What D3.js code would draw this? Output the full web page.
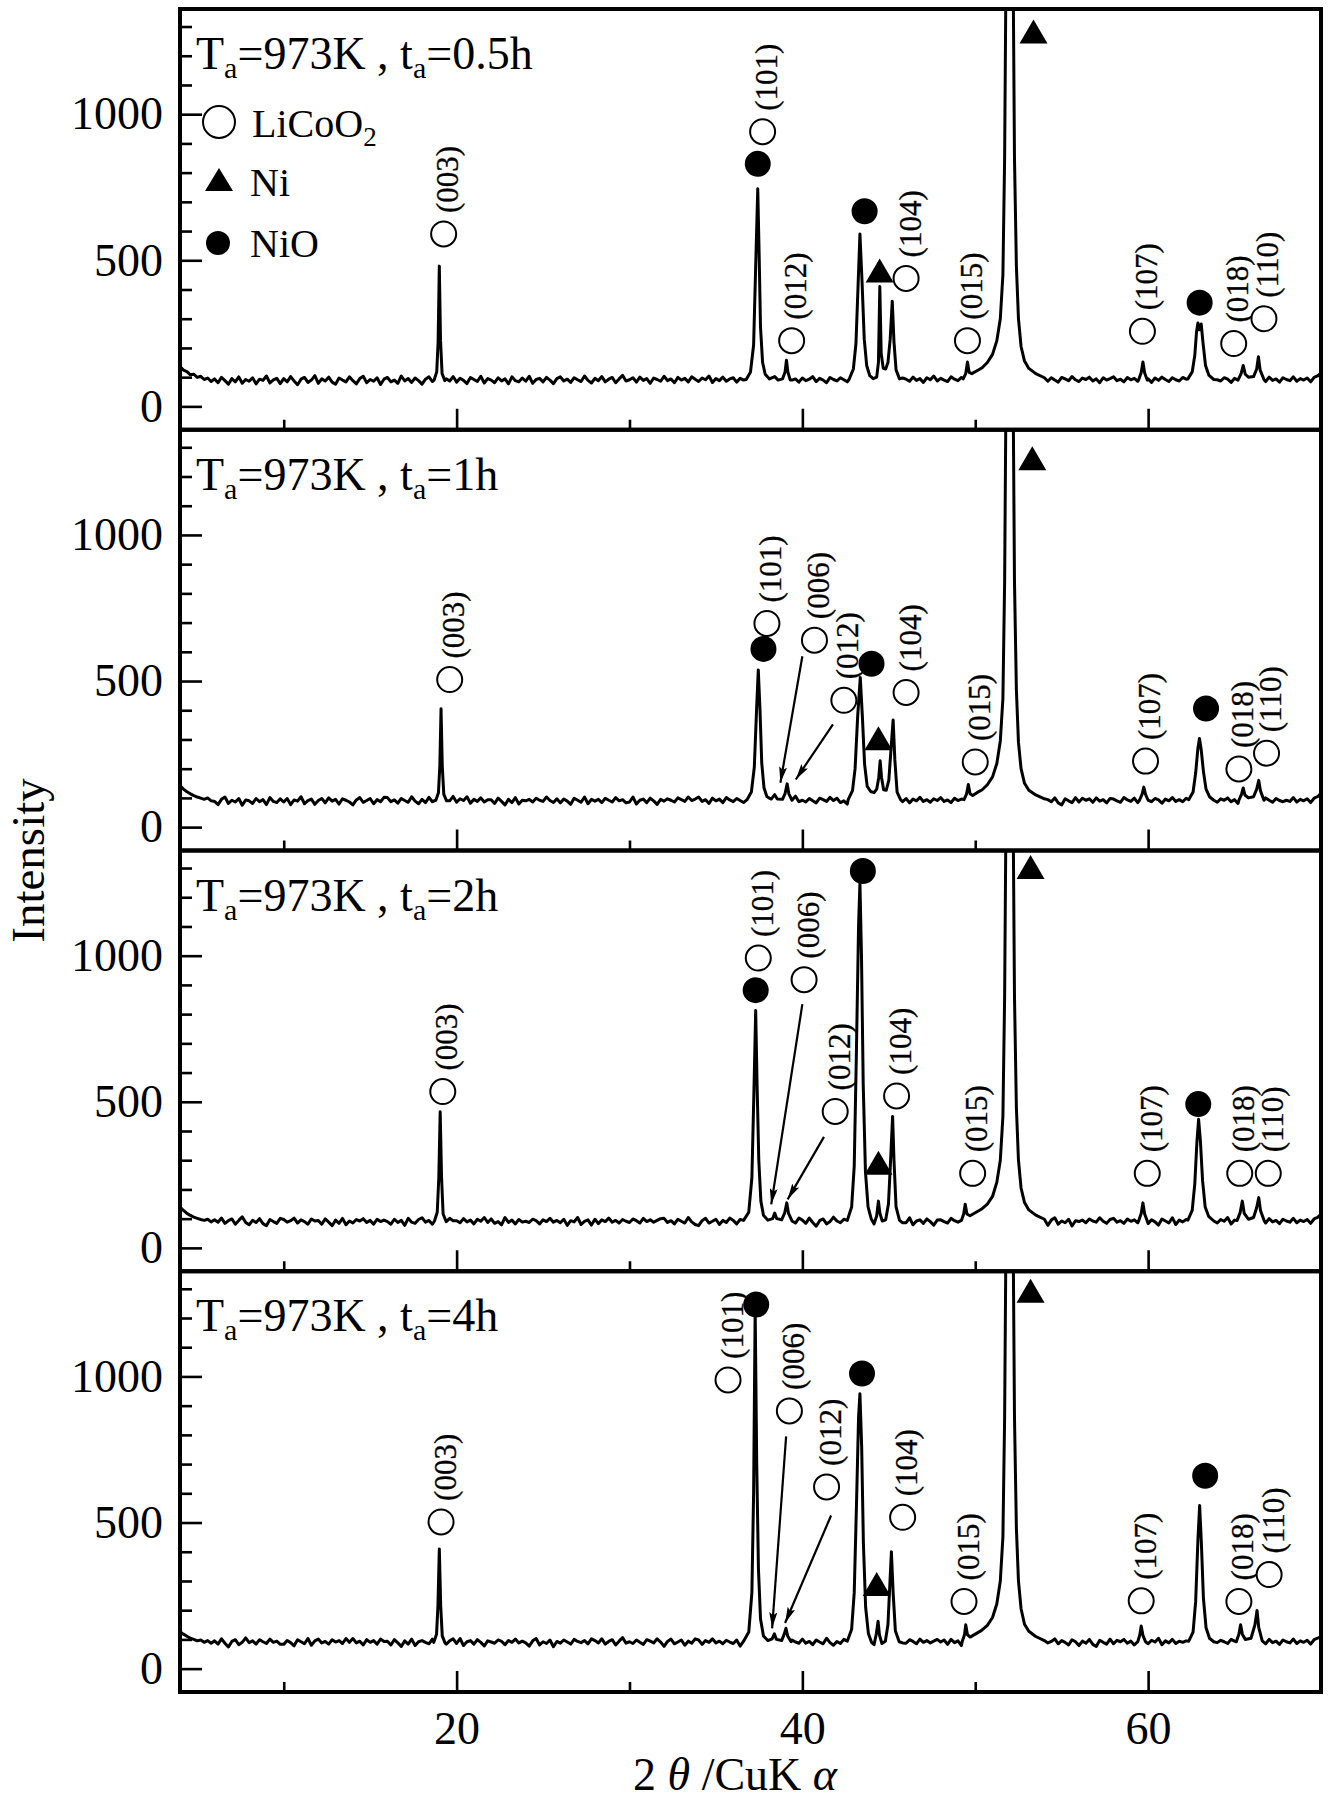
<!DOCTYPE html>
<html>
<head>
<meta charset="utf-8">
<script src="https://cdn.jsdelivr.net/npm/d3@7/dist/d3.min.js"></script>
<style>
  html, body { margin: 0; padding: 0; background: #fff; }
  svg { display: block; }
  text { font-family: "Liberation Serif", "Times New Roman", serif; fill: #000; }
</style>
</head>
<body>
<svg id="chart" width="1334" height="1804"></svg>
<script>
// ---- Diffraction patterns: 2θ range and sampling grid of the background ----
const thetaDomain = [4, 70];
const intensityDomain = [-80, 1360];
const gridStart = 4.0, gridStep = 0.2;

// Panel headings: annealing time at Ta = 973 K
const annealTimes = ["0.5h", "1h", "2h", "4h"];

// Background counts on the 0.2° grid (4.0 … 70.0), one array per pattern
const base05h = [
  136,124,119,108,110,99,103,92,97,85,
  94,81,99,88,76,95,84,101,79,92,
  86,98,77,93,89,104,80,91,96,78,
  95,84,102,87,74,93,99,82,90,105,
  79,94,87,100,83,76,97,90,84,101,
  88,77,95,103,81,92,86,98,75,93,
  99,84,90,79,104,87,95,82,97,88,
  76,93,101,85,91,98,80,94,87,102,
  83,96,89,78,99,92,85,103,80,95,
  90,81,98,87,94,77,101,88,84,97,
  86,103,79,92,96,84,99,90,78,95,
  101,87,93,82,98,91,85,104,89,80,
  96,88,102,84,93,99,81,94,106,87,
  91,98,83,100,89,95,79,97,92,86,
  103,88,94,81,99,90,96,84,101,93,
  85,97,91,104,82,95,88,100,86,94,
  98,83,96,90,102,88,94,85,97,91,
  89,95,84,99,92,86,101,90,94,83,
  97,88,93,102,85,96,90,81,99,92,
  87,98,91,84,100,93,89,96,85,102,
  90,95,86,99,92,88,103,91,84,97,
  93,86,100,89,95,82,98,91,104,87,
  96,90,85,101,93,88,99,84,95,102,
  89,97,92,86,100,94,88,103,91,96,
  87,99,93,85,101,90,96,88,94,100,
  92,86,98,90,83,99,94,88,102,91,
  85,97,92,100,87,94,81,98,90,95,
  101,88,93,84,99,91,96,86,103,90,
  94,82,97,89,100,92,85,98,91,87,
  99,93,86,102,90,95,88,97,84,100,
  91,87,98,93,82,96,90,101,88,94,
  86,99,92,97,85,100,89,94,83,98,
  92,88,101,86,95,90,97,84,99,104,
  114
];
const base1h = [
  142,130,121,114,108,103,99,95,100,90,
  88,77,95,103,81,92,86,98,75,93,
  90,81,98,87,94,77,101,88,84,97,
  86,98,77,93,89,104,80,91,96,78,
  91,98,83,100,89,95,79,97,92,86,
  76,93,101,85,91,98,80,94,87,102,
  101,87,93,82,98,91,85,104,89,80,
  95,84,102,87,74,93,99,82,90,105,
  85,97,91,104,82,95,88,100,86,94,
  94,81,99,88,76,95,84,101,79,92,
  90,95,86,99,92,88,103,91,84,97,
  83,96,89,78,99,92,85,103,80,95,
  89,95,84,99,92,86,101,90,94,83,
  86,103,79,92,96,84,99,90,78,95,
  89,97,92,86,100,94,88,103,91,96,
  103,88,94,81,99,90,96,84,101,93,
  87,98,91,84,100,93,89,96,85,102,
  96,88,102,84,93,99,81,94,106,87,
  92,86,98,90,83,99,94,88,102,91,
  99,84,90,79,104,87,95,82,97,88,
  93,86,100,89,95,82,98,91,104,87,
  98,83,96,90,102,88,94,85,97,91,
  101,88,93,84,99,91,96,86,103,90,
  97,88,93,102,85,96,90,81,99,92,
  99,93,86,102,90,95,88,97,84,100,
  79,94,87,100,83,76,97,90,84,101,
  86,99,92,97,85,100,89,94,83,98,
  96,90,85,101,93,88,99,84,95,102,
  91,87,98,93,82,96,90,101,88,94,
  87,99,93,85,101,90,96,88,94,100,
  85,97,92,100,87,94,81,98,90,95,
  94,82,97,89,100,92,85,98,91,87,
  92,88,101,86,95,90,97,84,99,104,
  116
];
const base2h = [
  140,128,118,111,105,101,97,94,98,89,
  96,88,102,84,93,99,81,94,106,87,
  79,94,87,100,83,76,97,90,84,101,
  97,88,93,102,85,96,90,81,99,92,
  94,81,99,88,76,95,84,101,79,92,
  85,97,92,100,87,94,81,98,90,95,
  90,81,98,87,94,77,101,88,84,97,
  103,88,94,81,99,90,96,84,101,93,
  93,86,100,89,95,82,98,91,104,87,
  99,84,90,79,104,87,95,82,97,88,
  91,87,98,93,82,96,90,101,88,94,
  86,98,77,93,89,104,80,91,96,78,
  98,83,96,90,102,88,94,85,97,91,
  87,99,93,85,101,90,96,88,94,100,
  101,87,93,82,98,91,85,104,89,80,
  76,93,101,85,91,98,80,94,87,102,
  94,82,97,89,100,92,85,98,91,87,
  87,98,91,84,100,93,89,96,85,102,
  95,84,102,87,74,93,99,82,90,105,
  92,86,98,90,83,99,94,88,102,91,
  91,98,83,100,89,95,79,97,92,86,
  86,103,79,92,96,84,99,90,78,95,
  96,90,85,101,93,88,99,84,95,102,
  89,95,84,99,92,86,101,90,94,83,
  99,93,86,102,90,95,88,97,84,100,
  88,77,95,103,81,92,86,98,75,93,
  90,95,86,99,92,88,103,91,84,97,
  101,88,93,84,99,91,96,86,103,90,
  83,96,89,78,99,92,85,103,80,95,
  89,97,92,86,100,94,88,103,91,96,
  85,97,91,104,82,95,88,100,86,94,
  86,99,92,97,85,100,89,94,83,98,
  92,88,101,86,95,90,97,84,99,104,
  116
];
const base4h = [
  126,118,111,104,100,95,98,90,96,87,
  95,84,102,87,74,93,99,82,90,105,
  89,95,84,99,92,86,101,90,94,83,
  83,96,89,78,99,92,85,103,80,95,
  101,88,93,84,99,91,96,86,103,90,
  103,88,94,81,99,90,96,84,101,93,
  94,81,99,88,76,95,84,101,79,92,
  96,90,85,101,93,88,99,84,95,102,
  86,103,79,92,96,84,99,90,78,95,
  91,87,98,93,82,96,90,101,88,94,
  88,77,95,103,81,92,86,98,75,93,
  87,98,91,84,100,93,89,96,85,102,
  96,88,102,84,93,99,81,94,106,87,
  92,86,98,90,83,99,94,88,102,91,
  76,93,101,85,91,98,80,94,87,102,
  98,83,96,90,102,88,94,85,97,91,
  86,98,77,93,89,104,80,91,96,78,
  94,82,97,89,100,92,85,98,91,87,
  101,87,93,82,98,91,85,104,89,80,
  93,86,100,89,95,82,98,91,104,87,
  99,84,90,79,104,87,95,82,97,88,
  87,99,93,85,101,90,96,88,94,100,
  91,98,83,100,89,95,79,97,92,86,
  90,81,98,87,94,77,101,88,84,97,
  99,93,86,102,90,95,88,97,84,100,
  97,88,93,102,85,96,90,81,99,92,
  79,94,87,100,83,76,97,90,84,101,
  85,97,92,100,87,94,81,98,90,95,
  85,97,91,104,82,95,88,100,86,94,
  90,95,86,99,92,88,103,91,84,97,
  89,97,92,86,100,94,88,103,91,96,
  86,99,92,97,85,100,89,94,83,98,
  92,88,101,86,95,90,97,84,99,104,
  110
];

// Reflection profiles [2θ, counts]; each group replaces the background over its span
const peaks05h = [
  [[18.7,90],[18.85,118],[18.93,220],[19.0,480],[19.07,225],[19.16,112],[19.32,88]],
  [[36.75,92],[37.0,118],[37.18,210],[37.3,480],[37.42,745],[37.5,520],[37.58,270],[37.7,150],[37.85,110],[38.1,94],[38.4,102],[38.6,90],[38.85,94],[39.0,118],[39.08,158],[39.16,118],[39.3,90]],
  [[42.7,92],[42.95,128],[43.1,215],[43.22,410],[43.33,590],[43.45,430],[43.58,230],[43.72,140],[43.9,105],[44.1,95],[44.3,100],[44.4,150],[44.48,410],[44.56,180],[44.68,130],[44.82,128],[44.95,150],[45.08,230],[45.2,360],[45.3,220],[45.42,125],[45.62,94]],
  [[49.3,94],[49.45,112],[49.55,152],[49.65,116],[49.8,112],[50.1,122],[50.4,132],[50.7,150],[51.0,178],[51.25,225],[51.45,300],[51.6,450],[51.7,850],[51.78,1500],[51.83,8000],[52.13,8000],[52.19,1500],[52.27,850],[52.38,480],[52.5,300],[52.65,205],[52.85,155],[53.1,130],[53.5,112],[54.0,98]],
  [[59.45,90],[59.6,116],[59.7,152],[59.8,114],[59.95,90]],
  [[62.3,94],[62.55,118],[62.7,175],[62.8,255],[62.88,285],[62.97,262],[63.07,282],[63.18,215],[63.32,140],[63.52,106],[63.8,92]],
  [[65.2,90],[65.38,112],[65.5,140],[65.62,110],[65.8,100],[66.1,102],[66.28,128],[66.38,170],[66.48,124],[66.7,92]]
];
const peaks1h = [
  [[18.8,92],[18.95,118],[19.03,210],[19.1,405],[19.17,210],[19.26,112],[19.42,90]],
  [[36.8,94],[37.05,120],[37.22,205],[37.35,400],[37.45,538],[37.55,400],[37.65,220],[37.78,135],[37.95,104],[38.2,96],[38.4,111],[38.55,96],[38.85,95],[39.0,115],[39.12,148],[39.22,114],[39.4,92]],
  [[42.65,94],[42.9,125],[43.05,200],[43.2,380],[43.35,512],[43.47,380],[43.6,215],[43.75,140],[43.95,122],[44.15,118],[44.3,130],[44.42,170],[44.5,227],[44.58,170],[44.7,128],[44.85,126],[45.0,160],[45.12,260],[45.25,367],[45.35,230],[45.48,120],[45.68,94]],
  [[49.35,94],[49.5,114],[49.6,146],[49.7,114],[49.85,108],[50.1,118],[50.4,128],[50.7,145],[51.0,172],[51.25,218],[51.45,295],[51.6,440],[51.7,840],[51.78,1500],[51.83,8000],[52.13,8000],[52.19,1500],[52.27,840],[52.38,470],[52.5,290],[52.65,200],[52.85,150],[53.1,126],[53.5,110],[54.0,97]],
  [[59.5,92],[59.65,112],[59.75,137],[59.85,112],[60.0,92]],
  [[62.35,94],[62.6,120],[62.75,185],[62.88,270],[62.97,303],[63.07,265],[63.2,190],[63.35,130],[63.55,104],[63.8,92]],
  [[65.25,92],[65.4,112],[65.5,134],[65.6,110],[65.8,100],[66.1,104],[66.28,130],[66.4,160],[66.5,124],[66.7,92]]
];
const peaks2h = [
  [[18.72,92],[18.88,122],[18.97,240],[19.05,466],[19.13,240],[19.22,116],[19.4,90]],
  [[36.6,94],[36.9,122],[37.08,240],[37.2,540],[37.3,812],[37.38,560],[37.48,300],[37.6,160],[37.75,112],[38.0,95],[38.28,100],[38.4,119],[38.52,100],[38.8,96],[38.98,120],[39.1,154],[39.2,118],[39.4,92]],
  [[42.6,94],[42.85,140],[43.0,280],[43.12,650],[43.25,1100],[43.33,1250],[43.42,1000],[43.52,560],[43.65,260],[43.8,140],[43.98,100],[44.15,82],[44.3,110],[44.4,160],[44.48,120],[44.62,92],[44.82,96],[44.98,150],[45.12,320],[45.22,450],[45.3,300],[45.42,140],[45.62,94]],
  [[49.2,94],[49.33,116],[49.42,149],[49.52,116],[49.7,110],[50.0,120],[50.35,132],[50.7,150],[51.0,176],[51.25,225],[51.45,300],[51.6,450],[51.7,860],[51.78,1500],[51.83,8000],[52.13,8000],[52.19,1500],[52.27,860],[52.38,480],[52.5,300],[52.65,205],[52.85,155],[53.1,130],[53.5,112],[54.0,98]],
  [[59.45,92],[59.6,118],[59.7,154],[59.8,116],[59.95,92]],
  [[62.3,95],[62.55,128],[62.7,220],[62.82,360],[62.92,440],[63.02,370],[63.15,230],[63.3,140],[63.5,108],[63.8,92]],
  [[65.15,94],[65.32,120],[65.45,160],[65.56,118],[65.8,98],[66.1,104],[66.28,138],[66.4,172],[66.5,128],[66.72,92]]
];
const peaks4h = [
  [[18.68,90],[18.84,118],[18.92,215],[19.0,409],[19.08,215],[19.17,112],[19.33,88]],
  [[36.6,94],[36.9,125],[37.08,260],[37.18,600],[37.27,1230],[37.36,700],[37.46,340],[37.58,170],[37.75,112],[38.0,96],[38.25,102],[38.38,119],[38.5,100],[38.8,96],[38.95,118],[39.05,138],[39.15,112],[39.35,92]],
  [[42.6,94],[42.85,135],[43.0,260],[43.13,560],[43.25,860],[43.33,941],[43.43,760],[43.53,430],[43.66,210],[43.82,120],[44.0,90],[44.15,82],[44.28,120],[44.38,162],[44.46,115],[44.6,86],[44.8,94],[44.95,150],[45.07,300],[45.15,400],[45.25,260],[45.38,130],[45.6,92]],
  [[49.25,94],[49.38,116],[49.45,150],[49.55,116],[49.7,108],[50.0,118],[50.35,130],[50.7,148],[51.0,175],[51.25,222],[51.45,300],[51.6,450],[51.7,860],[51.78,1500],[51.83,8000],[52.13,8000],[52.19,1500],[52.27,860],[52.38,480],[52.5,300],[52.65,205],[52.85,152],[53.1,128],[53.5,110],[54.0,96]],
  [[59.4,92],[59.52,116],[59.6,146],[59.7,114],[59.85,92]],
  [[62.35,94],[62.6,125],[62.75,230],[62.88,440],[62.98,558],[63.08,430],[63.2,240],[63.35,140],[63.55,104],[63.8,92]],
  [[65.1,92],[65.25,118],[65.35,150],[65.45,118],[65.62,100],[65.95,104],[66.18,150],[66.3,199],[66.4,140],[66.6,95]]
];

// Phase markers: o = LiCoO2 (with hkl), n = NiO, t = Ni   [2θ, counts]
const marks05h = [
  {k:"o",x:19.25,y:590,hkl:"(003)"}, {k:"n",x:37.42,y:830}, {k:"o",x:37.7,y:940,hkl:"(101)"},
  {k:"o",x:39.38,y:225,hkl:"(012)"}, {k:"n",x:43.6,y:668}, {k:"t",x:44.47,y:462},
  {k:"o",x:46.0,y:438,hkl:"(104)"}, {k:"o",x:49.55,y:225,hkl:"(015)"}, {k:"t",x:53.37,y:1280},
  {k:"o",x:59.67,y:257,hkl:"(107)"}, {k:"n",x:62.98,y:355}, {k:"o",x:64.95,y:215,hkl:"(018)"},
  {k:"o",x:66.7,y:300,hkl:"(110)"}
];
const marks1h = [
  {k:"o",x:19.6,y:505,hkl:"(003)"}, {k:"n",x:37.75,y:610}, {k:"o",x:37.95,y:697,hkl:"(101)"},
  {k:"o",x:40.7,y:640,hkl:"(006)"}, {k:"o",x:42.4,y:434,hkl:"(012)"}, {k:"n",x:44.0,y:559},
  {k:"t",x:44.4,y:301}, {k:"o",x:46.0,y:461,hkl:"(104)"}, {k:"o",x:50.0,y:223,hkl:"(015)"},
  {k:"t",x:53.3,y:1259}, {k:"o",x:59.85,y:226,hkl:"(107)"}, {k:"n",x:63.35,y:406},
  {k:"o",x:65.25,y:199,hkl:"(018)"}, {k:"o",x:66.85,y:253,hkl:"(110)"}
];
const marks2h = [
  {k:"o",x:19.2,y:535,hkl:"(003)"}, {k:"n",x:37.3,y:882}, {k:"o",x:37.45,y:992,hkl:"(101)"},
  {k:"o",x:40.1,y:918,hkl:"(006)"}, {k:"o",x:41.9,y:467,hkl:"(012)"}, {k:"n",x:43.5,y:1290},
  {k:"t",x:44.4,y:288}, {k:"o",x:45.45,y:520,hkl:"(104)"}, {k:"o",x:49.85,y:255,hkl:"(015)"},
  {k:"t",x:53.2,y:1300}, {k:"o",x:59.95,y:255,hkl:"(107)"}, {k:"n",x:62.9,y:492},
  {k:"o",x:65.3,y:255,hkl:"(018)"}, {k:"o",x:66.95,y:255,hkl:"(110)"}
];
const marks4h = [
  {k:"o",x:19.1,y:502,hkl:"(003)"}, {k:"n",x:37.33,y:1246}, {k:"o",x:35.7,y:988,hkl:"(101)"},
  {k:"o",x:39.25,y:882,hkl:"(006)"}, {k:"o",x:41.4,y:622,hkl:"(012)"}, {k:"n",x:43.45,y:1010},
  {k:"t",x:44.3,y:286}, {k:"o",x:45.8,y:518,hkl:"(104)"}, {k:"o",x:49.35,y:230,hkl:"(015)"},
  {k:"t",x:53.2,y:1290}, {k:"o",x:59.6,y:232,hkl:"(107)"}, {k:"n",x:63.3,y:660},
  {k:"o",x:65.25,y:230,hkl:"(018)"}, {k:"o",x:67.0,y:322,hkl:"(110)"}
];

// Pointers to the weak (006) and (012) reflections: [from, to] in [2θ, counts]
const arrows05h = [];
const arrows1h = [[[40.0,585],[38.73,152]], [[41.77,352],[39.62,163]]];
const arrows2h = [[[40.0,834],[38.2,149]], [[41.25,380],[39.15,166]]];
const arrows4h = [[[39.06,795],[38.25,138]], [[41.66,524],[39.0,156]]];

// Axis ticks
const yMajorTicks = [0, 500, 1000];
const yMinorTicks = [100, 200, 300, 400, 600, 700, 800, 900, 1100, 1200, 1300];
const xMajorTicks = [20, 40, 60];
const xMinorTicks = [10, 30, 50];

const panels = [
  {time: annealTimes[0], base: base05h, peaks: peaks05h, marks: marks05h, arrows: arrows05h},
  {time: annealTimes[1], base: base1h,  peaks: peaks1h,  marks: marks1h,  arrows: arrows1h},
  {time: annealTimes[2], base: base2h,  peaks: peaks2h,  marks: marks2h,  arrows: arrows2h},
  {time: annealTimes[3], base: base4h,  peaks: peaks4h,  marks: marks4h,  arrows: arrows4h}
];

// ---- Layout ----
const plotLeft = 180, plotRight = 1321, plotTop = 9, plotBottom = 1692;
const panelH = (plotBottom - plotTop) / panels.length;
const SERIF = '"Liberation Serif", "Times New Roman", serif';

const svg = d3.select("#chart");
const x = d3.scaleLinear().domain(thetaDomain).range([plotLeft, plotRight]);

const defs = svg.append("defs");
defs.append("marker")
  .attr("id", "arrowhead").attr("viewBox", "0 0 16 8")
  .attr("refX", 16).attr("refY", 4)
  .attr("markerWidth", 16).attr("markerHeight", 8)
  .attr("markerUnits", "userSpaceOnUse").attr("orient", "auto")
  .append("path").attr("d", "M0,0 L16,4 L0,8 L3,4 Z").attr("fill", "#000");

function buildTrace(base, peaks) {
  const pts = base.map((v, i) => [+(gridStart + i * gridStep).toFixed(2), v]);
  const spans = peaks.map(p => [p[0][0], p[p.length - 1][0]]);
  const kept = pts.filter(([t]) => !spans.some(([a, b]) => t >= a && t <= b));
  return kept.concat(...peaks).sort((a, b) => a[0] - b[0]);
}

panels.forEach((p, i) => {
  const top = plotTop + i * panelH;
  const bottom = top + panelH;
  const y = d3.scaleLinear().domain(intensityDomain).range([bottom, top]);
  const g = svg.append("g").attr("class", "panel");

  defs.append("clipPath").attr("id", "clip" + i)
    .append("rect").attr("x", plotLeft).attr("y", top)
    .attr("width", plotRight - plotLeft).attr("height", panelH);

  // pattern trace
  const line = d3.line().x(d => x(d[0])).y(d => y(d[1]));
  g.append("path")
    .datum(buildTrace(p.base, p.peaks))
    .attr("clip-path", `url(#clip${i})`)
    .attr("d", line)
    .attr("fill", "none").attr("stroke", "#000")
    .attr("stroke-width", 3).attr("stroke-linejoin", "round");

  // y axis (ticks point inward)
  const yMajor = g.append("g").attr("transform", `translate(${plotLeft},0)`)
    .call(d3.axisLeft(y).tickValues(yMajorTicks).tickSize(-22).tickPadding(17).tickFormat(d3.format("d")));
  const yMinor = g.append("g").attr("transform", `translate(${plotLeft},0)`)
    .call(d3.axisLeft(y).tickValues(yMinorTicks).tickSize(-12).tickFormat(""));
  // x axis on the panel's lower edge
  const xMajor = g.append("g").attr("transform", `translate(0,${bottom})`)
    .call(d3.axisBottom(x).tickValues(xMajorTicks).tickSize(-21).tickPadding(19)
      .tickFormat(i === panels.length - 1 ? d3.format("d") : ""));
  const xMinor = g.append("g").attr("transform", `translate(0,${bottom})`)
    .call(d3.axisBottom(x).tickValues(xMinorTicks).tickSize(-10).tickFormat(""));

  [yMajor, yMinor, xMajor, xMinor].forEach(a => {
    a.attr("font-family", null).attr("font-size", null);
    a.select(".domain").remove();
    a.selectAll(".tick line").attr("stroke", "#000").attr("stroke-width", 2.6);
    a.selectAll(".tick text").attr("font-family", SERIF).attr("font-size", 46);
  });

  // arrows
  p.arrows.forEach(([a, b]) => {
    g.append("line")
      .attr("x1", x(a[0])).attr("y1", y(a[1]))
      .attr("x2", x(b[0])).attr("y2", y(b[1]))
      .attr("stroke", "#000").attr("stroke-width", 2.2)
      .attr("marker-end", "url(#arrowhead)");
  });

  // phase markers
  p.marks.forEach(m => {
    const cx = x(m.x), cy = y(m.y);
    if (m.k === "o") {
      g.append("circle").attr("cx", cx).attr("cy", cy).attr("r", 12.5)
        .attr("fill", "#fff").attr("stroke", "#000").attr("stroke-width", 2);
      g.append("text")
        .attr("transform", `translate(${cx + 4},${cy - 21}) rotate(-90)`)
        .attr("dominant-baseline", "central")
        .attr("font-family", SERIF)
        .attr("font-size", 31)
        .attr("stroke", "#000").attr("stroke-width", 0.3)
        .text(m.hkl);
    } else if (m.k === "n") {
      g.append("circle").attr("cx", cx).attr("cy", cy).attr("r", 13).attr("fill", "#000");
    } else {
      g.append("path")
        .attr("d", `M${cx - 14},${cy + 11} L${cx + 14},${cy + 11} L${cx},${cy - 13} Z`)
        .attr("fill", "#000");
    }
  });

  // heading
  const t = g.append("text").attr("x", 196).attr("y", top + 60).attr("font-size", 46);
  t.append("tspan").text("T");
  t.append("tspan").attr("font-size", 30).attr("dy", 9).text("a");
  t.append("tspan").attr("dy", -9).text("=973K , t");
  t.append("tspan").attr("font-size", 30).attr("dy", 9).text("a");
  t.append("tspan").attr("dy", -9).text("=" + p.time);

  // frame
  g.append("rect").attr("x", plotLeft).attr("y", top)
    .attr("width", plotRight - plotLeft).attr("height", panelH)
    .attr("fill", "none").attr("stroke", "#000").attr("stroke-width", 4);
});

// legend in the first panel
const lg = svg.append("g").attr("font-size", 40);
lg.append("circle").attr("cx", 219).attr("cy", 122).attr("r", 16)
  .attr("fill", "#fff").attr("stroke", "#000").attr("stroke-width", 2);
const lt = lg.append("text").attr("x", 252).attr("y", 137);
lt.append("tspan").text("LiCoO");
lt.append("tspan").attr("font-size", 27).attr("dy", 9).text("2");
lg.append("path").attr("d", "M205,191 L233,191 L219,168 Z").attr("fill", "#000");
lg.append("text").attr("x", 250).attr("y", 196).text("Ni");
lg.append("circle").attr("cx", 218).attr("cy", 243).attr("r", 12).attr("fill", "#000");
lg.append("text").attr("x", 250).attr("y", 257).text("NiO");

// axis titles
const xt = svg.append("text").attr("x", 735).attr("y", 1790)
  .attr("text-anchor", "middle").attr("font-size", 46);
xt.append("tspan").text("2 ");
xt.append("tspan").attr("font-style", "italic").text("θ");
xt.append("tspan").text(" /CuK ");
xt.append("tspan").attr("font-style", "italic").text("α");

svg.append("text")
  .attr("transform", `translate(44,${(plotTop + plotBottom) / 2 + 10}) rotate(-90)`)
  .attr("text-anchor", "middle").attr("font-size", 47)
  .text("Intensity");
</script>
</body>
</html>
